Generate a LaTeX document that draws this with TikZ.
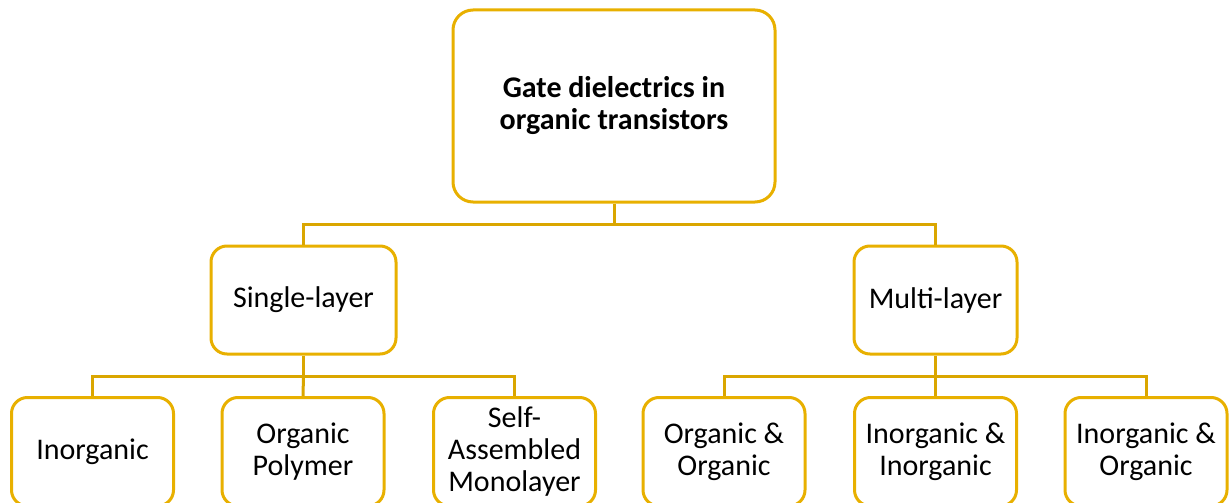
\documentclass[tikz,border=0pt]{standalone}
\usepackage{fontspec}
\setmainfont{Carlito}
\definecolor{boxgold}{RGB}{232,176,0}
\definecolor{linegold}{RGB}{218,166,0}
\begin{document}
\begin{tikzpicture}[x=1pt,y=-1pt,
  box/.style={draw=boxgold, line width=3pt, rounded corners=16pt, fill=white,
    align=center, inner sep=0pt, font=\fontsize{30}{32}\selectfont},
  toplevel/.style={box, minimum width=322pt, minimum height=192pt, rounded corners=20pt,
    font=\fontsize{30}{32}\selectfont\bfseries},
  midlevel/.style={box, minimum height=108pt},
  leaf/.style={box, minimum width=162pt, minimum height=108.5pt},
  conn/.style={draw=linegold, line width=3pt}]
\useasboundingbox (0,0) rectangle (1229,503);
\node[toplevel] (top) at (614,106) {Gate dielectrics in\\organic transistors};
\node[midlevel, minimum width=185pt] (single) at (303.5,300) {Single-layer};
\node[midlevel, minimum width=163pt] (multi) at (935.5,300) {Multi-layer};
\node[leaf] (inorg) at (92.5,451.75) {Inorganic};
\node[leaf] (poly) at (303,451.75) {Organic\\Polymer};
\node[leaf] (sam) at (514.5,451.75) {Self-\\Assembled\\Monolayer};
\node[leaf] (oo) at (724,451.75) {Organic \&\\Organic};
\node[leaf] (ii) at (935.5,451.75) {Inorganic \&\\Inorganic};
\node[leaf] (io) at (1146,451.75) {Inorganic \&\\Organic};
\coordinate (j1) at (614,224);
\coordinate (j2) at (303.5,376);
\coordinate (j3) at (935.5,376);
\draw[conn] (top.south) -- (j1);
\draw[conn] (single.north) |- (j1) -| (multi.north);
\draw[conn] (single.south) -- (j2);
\draw[conn] (inorg.north) |- (j2) -| (sam.north);
\draw[conn] (j2) -- (poly.north);
\draw[conn] (multi.south) -- (j3);
\draw[conn] (oo.north) |- (j3) -| (io.north);
\draw[conn] (j3) -- (ii.north);
\end{tikzpicture}
\end{document}
